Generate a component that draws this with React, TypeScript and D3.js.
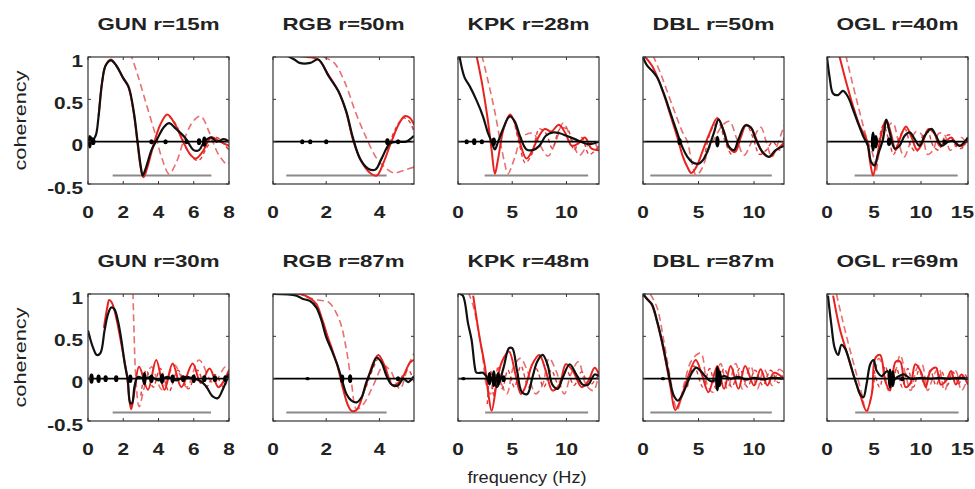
import React from "react";
import * as d3 from "d3";

type P = [number, number];

const titles = ["GUN r=15m", "RGB r=50m", "KPK r=28m", "DBL r=50m", "OGL r=40m",
  "GUN r=30m", "RGB r=87m", "KPK r=48m", "DBL r=87m", "OGL r=69m"];
const xMaxes = [8, 5.3, 13, 12.7, 15, 8, 5.3, 13, 12.7, 15];
const xTickSets = [[0, 2, 4, 6, 8], [0, 2, 4], [0, 5, 10], [0, 5, 10], [0, 5, 10, 15]];
const yTicks = [-0.5, 0, 0.5, 1];
const yTickLabels = ["-0.5", "0", "0.5", "1"];
const grayLevel = -0.4;
const grayRanges: P[] = [[1.4, 7.0], [0.5, 4.27], [2.46, 12.0], [0.66, 11.6], [2.94, 13.9],
  [1.4, 6.98], [0.5, 4.27], [2.5, 12.0], [0.66, 11.6], [3.0, 14.0]];

// ---- GUN r=15m
const gun15Black: P[] = [[0,0.02],[0.15,0.05],[0.3,0.03],[0.45,0.08],[0.6,0.3],[0.8,0.7],[1.0,0.9],[1.3,0.96],[1.6,0.9],[2.0,0.75],[2.3,0.65],[2.6,0.35],[2.8,0.02],[3.0,-0.3],[3.1,-0.4],[3.3,-0.3],[3.6,-0.1],[3.9,0.02],[4.3,0.17],[4.6,0.22],[5.0,0.15],[5.5,0.05],[6.0,-0.1],[6.3,-0.1],[6.6,0.0],[7.0,0.05],[7.3,0.0],[7.7,0.03],[8,0.0]];
const gun15Red: P[] = [[0.6,0.3],[0.8,0.7],[1.0,0.9],[1.3,0.97],[1.6,0.9],[2.0,0.75],[2.3,0.64],[2.6,0.33],[2.8,0.0],[3.0,-0.32],[3.15,-0.42],[3.4,-0.28],[3.7,-0.05],[4.1,0.2],[4.5,0.32],[4.9,0.22],[5.4,0.0],[5.8,-0.15],[6.1,-0.2],[6.5,-0.12],[7.0,0.05],[7.5,0.0],[8,-0.05]];
const gun15Dash: P[] = [[2.4,1.05],[2.8,0.8],[3.3,0.45],[3.8,0.1],[4.2,-0.2],[4.6,-0.38],[5.0,-0.25],[5.5,0.05],[6.0,0.25],[6.4,0.3],[6.9,0.1],[7.4,-0.15],[7.9,-0.27],[8,-0.25]];
const gun15Dash2: P[] = [[4.6,0.3],[5.0,0.2],[5.5,-0.05],[6.0,-0.2],[6.3,-0.22],[6.8,-0.05],[7.3,0.05],[7.8,-0.05],[8,-0.1]];
const gun15Blobs: P[] = [[0.1,0.08],[0.3,0.04],[3.6,0.03],[4.4,0.03],[5.6,0.03],[6.3,0.04],[6.6,0.06]];

// ---- RGB r=50m
const rgb50Black: P[] = [[0.5,1.02],[0.8,0.97],[1.0,0.93],[1.4,0.93],[1.7,0.97],[2.1,0.77],[2.45,0.6],[2.75,0.36],[3.0,0.05],[3.27,-0.2],[3.58,-0.32],[3.85,-0.33],[4.08,-0.2],[4.4,-0.02],[4.7,0.0],[5.0,0.0],[5.3,0.07]];
const rgb50Red: P[] = [[0.5,1.02],[1.3,1.0],[1.7,0.97],[2.1,0.78],[2.45,0.6],[2.75,0.35],[3.0,0.03],[3.3,-0.22],[3.65,-0.37],[3.9,-0.4],[4.15,-0.25],[4.45,0.0],[4.75,0.22],[4.95,0.3],[5.15,0.28],[5.3,0.2]];
const rgb50Dash: P[] = [[1.9,1.0],[2.3,0.93],[2.7,0.7],[3.1,0.35],[3.5,0.05],[3.9,-0.2],[4.2,-0.3],[4.55,-0.37],[4.9,-0.34],[5.3,-0.3]];
const rgb50Dash2: P[] = [[4.3,-0.1],[4.6,0.15],[4.9,0.28],[5.1,0.25],[5.3,0.12]];
const rgb50Blobs: P[] = [[1.1,0.03],[1.4,0.03],[2.0,0.03],[4.3,0.04],[4.7,0.03]];

// ---- KPK r=28m
const kpk28Black: P[] = [[0.15,1.0],[0.6,0.76],[1.1,0.65],[1.7,0.49],[2.3,0.3],[2.77,0.1],[3.1,0.0],[3.4,-0.09],[3.7,0.0],[4.15,0.15],[4.77,0.3],[5.23,0.24],[5.7,0.07],[6.3,-0.09],[6.9,-0.1],[7.5,-0.05],[8.1,0.07],[8.77,0.11],[9.38,0.1],[10,0.07],[10.77,0.03],[11.5,-0.01],[12.15,-0.03],[13,0.0]];
const kpk28Red: P[] = [[1.7,1.02],[2.2,0.7],[2.7,0.3],[3.1,-0.1],[3.4,-0.38],[3.7,-0.2],[4.2,0.15],[4.8,0.32],[5.3,0.2],[5.8,-0.05],[6.3,-0.2],[6.8,-0.12],[7.4,0.05],[8.0,0.15],[8.6,0.12],[9.3,0.2],[9.9,0.1],[10.5,-0.05],[11.1,-0.02],[11.7,0.05],[12.3,-0.08],[13,-0.1]];
const kpk28Dash: P[] = [[2.2,1.02],[2.8,0.7],[3.4,0.35],[3.9,0.0],[4.3,-0.25],[4.6,-0.38],[5.2,-0.2],[5.9,0.05],[6.9,0.1],[7.6,-0.05],[8.3,-0.17],[9.0,0.0],[9.7,0.22],[10.4,0.05],[11.2,-0.16],[11.9,-0.05],[12.5,0.0],[13,-0.12]];
const kpk28Dash2: P[] = [[4.3,0.2],[4.9,0.3],[5.6,0.0],[6.2,-0.25],[6.8,-0.15],[7.5,0.15],[8.1,0.1],[8.7,-0.08],[9.4,0.15],[10.1,0.15],[10.7,-0.1],[11.4,0.05],[12.1,-0.15],[13,-0.05]];
const kpk28Blobs: P[] = [[0.8,0.03],[1.5,0.04],[2.2,0.03],[3.3,0.05]];

// ---- DBL r=50m
const dbl50Black: P[] = [[0,1.0],[0.36,0.9],[0.8,0.84],[1.27,0.76],[1.87,0.57],[2.47,0.34],[3.07,0.11],[3.5,-0.05],[4.0,-0.18],[4.4,-0.24],[5.0,-0.26],[5.5,-0.2],[5.9,-0.08],[6.4,0.11],[6.8,0.26],[7.3,0.11],[7.7,-0.05],[8.2,-0.1],[8.6,0.03],[9.2,0.19],[9.7,0.17],[10.15,0.03],[10.75,-0.12],[11.35,-0.18],[11.95,-0.1],[12.7,-0.05]];
const dbl50Red: P[] = [[0.2,1.0],[0.8,0.9],[1.3,0.76],[1.9,0.55],[2.5,0.3],[3.1,0.05],[3.6,-0.18],[4.0,-0.3],[4.35,-0.37],[4.8,-0.3],[5.4,-0.1],[6.0,0.1],[6.7,0.28],[7.3,0.12],[7.8,-0.08],[8.3,-0.12],[8.8,0.05],[9.3,0.2],[9.8,0.15],[10.3,0.0],[10.9,-0.15],[11.4,-0.18],[12.0,-0.1],[12.7,-0.02]];
const dbl50Dash: P[] = [[0.9,1.02],[1.6,0.8],[2.3,0.55],[3.0,0.3],[3.6,0.1],[4.0,0.0],[4.4,-0.25],[4.8,-0.4],[5.3,-0.32],[5.9,-0.1],[6.5,0.05],[7.2,0.2],[7.8,0.24],[8.4,0.05],[9.1,-0.16],[9.8,0.0],[10.6,0.17],[11.1,0.0],[11.6,-0.18],[12.2,0.0],[12.7,0.19]];
const dbl50Dash2: P[] = [[5.5,-0.2],[6.2,0.15],[6.8,0.22],[7.4,0.0],[8.0,-0.15],[8.7,0.05],[9.3,0.2],[9.9,0.05],[10.5,-0.15],[11.1,-0.1],[11.7,0.0],[12.3,-0.1],[12.7,0.05]];
const dbl50Blobs: P[] = [[3.3,0.04],[6.7,0.07]];

// ---- OGL r=40m
const ogl40Black: P[] = [[0,1.0],[0.28,0.76],[0.64,0.57],[1.17,0.55],[1.7,0.6],[2.23,0.53],[2.77,0.38],[3.3,0.22],[3.83,0.07],[4.36,-0.05],[4.7,-0.24],[5.07,-0.28],[5.4,-0.16],[5.96,0.03],[6.3,0.26],[6.67,0.11],[7.2,-0.08],[7.7,-0.05],[8.26,0.07],[8.8,0.11],[9.33,0.03],[9.86,-0.05],[10.4,0.07],[11.1,0.15],[11.6,0.07],[12.2,-0.05],[12.9,0],[13.4,0.01],[14.1,-0.05],[15,0.05]];
const ogl40Red: P[] = [[1.3,1.02],[2.0,0.72],[2.77,0.42],[3.5,0.18],[4.2,0.03],[4.6,-0.25],[4.9,-0.4],[5.3,-0.2],[5.8,0.1],[6.3,0.26],[6.8,0.1],[7.3,-0.1],[7.8,0.05],[8.4,0.18],[9.0,0.05],[9.6,-0.1],[10.2,0.0],[10.8,0.15],[11.4,0.1],[12.0,-0.05],[12.6,0.0],[13.2,0.05],[13.8,-0.03],[14.4,-0.05],[15,0.03]];
const ogl40Dash: P[] = [[2.0,1.02],[2.8,0.65],[3.5,0.34],[4.2,0.05],[4.9,-0.16],[5.2,-0.35],[5.6,-0.1],[6.3,0.15],[7.0,0.22],[7.6,0.0],[8.2,-0.18],[8.9,0.0],[9.5,0.12],[10.1,0.08],[10.7,-0.15],[11.3,-0.1],[11.9,0.1],[12.5,0.08],[13.1,-0.1],[13.7,-0.05],[14.3,0.05],[15,-0.05]];
const ogl40Dash2: P[] = [[5.5,0.0],[6.0,0.2],[6.5,0.05],[7.1,-0.15],[7.7,0.05],[8.3,0.15],[8.9,-0.05],[9.5,-0.12],[10.1,0.05],[10.7,0.12],[11.3,-0.05],[11.9,-0.1],[12.5,0.05],[13.1,0.08],[13.7,-0.05],[14.3,-0.08],[15,0.05]];
const ogl40Blobs: P[] = [[4.9,0.12],[5.2,0.08],[6.6,0.05],[12.5,0.03]];

// ---- GUN r=30m
const gun30Black: P[] = [[0,0.57],[0.28,0.37],[0.5,0.28],[0.7,0.3],[0.94,0.57],[1.13,0.76],[1.32,0.84],[1.5,0.82],[1.7,0.68],[1.9,0.45],[2.08,0.18],[2.26,-0.02],[2.4,-0.29],[2.5,-0.29],[2.64,-0.09],[2.83,0.02],[3.2,0.0],[3.6,0.02],[4.0,-0.02],[4.5,0.02],[5.0,-0.02],[5.5,0.02],[6.0,0.0],[6.4,-0.03],[6.7,-0.09],[7.07,-0.21],[7.36,-0.23],[7.64,-0.13],[8,0.06]];
const gun30Red: P[] = [[0.9,0.6],[1.1,0.85],[1.2,0.93],[1.35,0.9],[1.6,0.72],[1.9,0.4],[2.2,0.05],[2.35,-0.25],[2.45,-0.36],[2.6,-0.2],[2.9,0.14],[3.4,-0.13],[3.87,0.22],[4.34,-0.13],[4.8,0.18],[5.3,-0.1],[5.94,0.18],[6.4,-0.05],[6.9,0.12],[7.4,-0.1],[8,0.1]];
const gun30Dash: P[] = [[2.55,1.02],[2.62,0.5],[2.7,0.06],[2.9,-0.33],[3.2,-0.1],[3.6,0.14],[4.2,-0.13],[4.9,0.16],[5.6,-0.1],[6.3,0.22],[7.1,-0.05],[7.8,0.14],[8,0.1]];
const gun30Dash2: P[] = [[3.0,-0.2],[3.3,0.1],[3.7,-0.1],[4.1,0.12],[4.6,-0.15],[5.1,0.1],[5.7,-0.12],[6.2,0.1],[6.7,-0.1],[7.2,0.05],[7.7,-0.1],[8,0.05]];
const gun30Blobs: P[] = [[0.2,0.06],[0.6,0.05],[1.0,0.04],[1.6,0.04],[2.4,0.05],[3.2,0.08],[3.6,0.05],[4.2,0.06],[4.8,0.05],[5.4,0.04],[6.0,0.05],[6.6,0.04],[7.2,0.04],[7.8,0.04]];

// ---- RGB r=87m
const rgb87Black: P[] = [[0,1.0],[0.88,0.98],[1.13,0.94],[1.38,0.92],[1.63,0.84],[1.82,0.69],[2.0,0.49],[2.2,0.34],[2.4,0.18],[2.58,0.0],[2.76,-0.18],[2.95,-0.26],[3.14,-0.28],[3.33,-0.22],[3.5,-0.05],[3.7,0.11],[3.9,0.25],[4.08,0.19],[4.27,0.03],[4.46,-0.07],[4.7,-0.08],[4.9,0.0],[5.08,-0.04],[5.3,0.03]];
const rgb87Red: P[] = [[0,1.0],[1.0,1.0],[1.4,0.95],[1.63,0.88],[1.85,0.7],[2.05,0.5],[2.25,0.32],[2.45,0.12],[2.6,-0.08],[2.8,-0.3],[2.95,-0.38],[3.14,-0.37],[3.45,-0.12],[3.77,0.19],[3.96,0.28],[4.2,0.15],[4.5,-0.08],[4.8,-0.02],[5.15,0.19],[5.3,0.22]];
const rgb87Dash: P[] = [[1.25,0.96],[1.7,0.93],[2.1,0.9],[2.5,0.69],[2.76,0.34],[2.95,-0.05],[3.14,-0.36],[3.4,-0.3],[3.77,-0.08],[4.15,0.15],[4.4,0.1],[4.77,-0.12],[5.08,0.15],[5.3,0.3]];
const rgb87Dash2: P[] = [[3.5,-0.1],[3.8,0.15],[4.0,0.25],[4.3,0.05],[4.6,-0.1],[4.9,0.05],[5.1,0.1],[5.3,-0.05]];
const rgb87Blobs: P[] = [[1.3,0.02],[2.6,0.05],[2.9,0.05],[4.7,0.03]];

// ---- KPK r=48m
const kpk48Black: P[] = [[0.15,1.0],[0.45,0.98],[0.93,0.65],[1.25,0.46],[1.56,0.13],[1.7,0.07],[2.3,0.07],[2.6,0.03],[2.9,-0.05],[3.2,0.02],[3.6,-0.1],[4.2,0.13],[4.7,0.36],[5.0,0.36],[5.45,0.09],[5.9,-0.16],[6.4,-0.18],[6.85,0.01],[7.3,0.2],[7.8,0.28],[8.25,0.17],[8.7,-0.07],[9.2,-0.12],[9.65,0.01],[10.3,0.17],[10.9,0.05],[11.5,-0.07],[12,-0.07],[12.6,0.05],[13,0.03]];
const kpk48Red: P[] = [[1.4,0.98],[2.0,0.48],[2.5,0.13],[2.8,-0.18],[3.1,-0.38],[3.6,-0.03],[4.05,0.2],[4.7,0.32],[5.3,0.05],[5.8,-0.18],[6.2,-0.1],[6.85,0.17],[7.5,0.28],[8.1,0.09],[8.7,-0.14],[9.35,-0.07],[9.95,0.17],[10.6,0.09],[11.4,-0.1],[12,-0.03],[12.6,0.13],[13,0.05]];
const kpk48Dash: P[] = [[0.95,1.02],[1.4,0.86],[1.9,0.55],[2.3,0.24],[2.6,-0.07],[3.0,-0.18],[3.4,0.09],[3.9,-0.03],[4.5,-0.18],[5.1,0.13],[5.75,0.24],[6.4,0.09],[7.15,-0.18],[7.8,-0.07],[8.4,0.24],[9.05,0.09],[9.8,-0.18],[10.4,0.05],[11.1,0.2],[11.8,-0.07],[12.5,-0.14],[13,0.09]];
const kpk48Dash2: P[] = [[2.7,-0.3],[3.0,0.1],[3.3,-0.2],[3.7,0.15],[4.1,-0.12],[4.6,0.1],[5.2,-0.1],[5.8,0.15],[6.5,-0.1],[7.2,0.12],[7.9,-0.1],[8.6,0.1],[9.3,-0.08],[10.0,0.1],[10.7,-0.08],[11.4,0.08],[12.1,-0.08],[13,0.05]];
const kpk48Blobs: P[] = [[0.5,0.02],[2.9,0.08],[3.3,0.1],[3.7,0.08],[4.2,0.04]];

// ---- DBL r=87m
const dbl87Black: P[] = [[0,1.0],[0.36,0.94],[0.8,0.88],[1.27,0.68],[1.7,0.45],[2.17,0.15],[2.47,-0.05],[2.77,-0.2],[3.13,-0.26],[3.5,-0.2],[4.0,-0.05],[4.4,0.07],[4.8,0.13],[5.2,0.09],[5.6,0.03],[6.1,-0.03],[6.7,-0.01],[7.3,0.03],[7.9,0.0],[8.6,0.02],[9.3,-0.01],[10,0.01],[10.8,-0.01],[11.6,0.01],[12.7,0.0]];
const dbl87Red: P[] = [[0,1.0],[0.4,0.94],[0.8,0.87],[1.27,0.67],[1.7,0.43],[2.17,0.12],[2.5,-0.12],[2.9,-0.37],[3.3,-0.28],[4.0,0.0],[4.75,0.22],[5.3,0.05],[5.9,-0.16],[6.7,0.15],[7.3,-0.12],[7.9,0.15],[8.6,-0.12],[9.2,0.15],[10,-0.08],[10.6,0.11],[11.2,-0.08],[11.8,0.07],[12.7,0.0]];
const dbl87Dash: P[] = [[0.66,1.0],[1.27,0.84],[1.87,0.45],[2.47,0.0],[3.07,-0.37],[3.67,-0.08],[4.4,0.22],[5.2,0.3],[5.8,-0.08],[6.3,-0.16],[7.0,0.18],[7.6,-0.12],[8.35,0.18],[8.95,-0.12],[9.7,0.15],[10.3,-0.12],[10.9,0.11],[11.65,-0.08],[12.26,0.11],[12.7,0.07]];
const dbl87Dash2: P[] = [[4.0,-0.1],[4.6,0.15],[5.4,-0.1],[6.0,0.12],[6.6,-0.12],[7.3,0.12],[8.0,-0.1],[8.7,0.12],[9.4,-0.1],[10.1,0.1],[10.8,-0.08],[11.5,0.1],[12.2,-0.05],[12.7,0.08]];
const dbl87Blobs: P[] = [[1.8,0.02],[6.7,0.15],[6.9,0.1]];

// ---- OGL r=69m
const ogl69Black: P[] = [[0.1,0.98],[0.47,0.63],[0.82,0.36],[1.18,0.28],[1.54,0.4],[1.9,0.36],[2.44,0.19],[2.8,0.05],[3.15,-0.07],[3.5,-0.18],[3.87,-0.22],[4.2,-0.07],[4.6,0.17],[4.95,0.22],[5.3,0.09],[5.84,0.03],[6.4,0.09],[6.9,-0.03],[7.5,0.02],[8.2,0.05],[8.9,0.0],[10,0.01],[11,0.0],[12,0.01],[13,0.0],[14,0.01],[15,0.0]];
const ogl69Red: P[] = [[0.65,0.98],[1.36,0.59],[2.08,0.32],[2.8,0.05],[3.5,-0.18],[4.2,-0.38],[4.77,-0.18],[5.13,0.24],[5.66,0.28],[6.2,-0.03],[6.7,-0.14],[7.3,0.2],[7.8,0.2],[8.35,-0.1],[8.9,-0.05],[9.4,0.17],[10.0,0.08],[10.5,-0.1],[11.0,0.09],[11.6,0.13],[12.1,-0.07],[12.7,-0.02],[13.2,0.09],[13.7,-0.07],[14.3,0.05],[15,-0.07]];
const ogl69Dash: P[] = [[1.0,1.0],[1.7,0.67],[2.4,0.36],[3.15,0.05],[3.7,-0.18],[4.2,-0.4],[4.95,-0.07],[5.5,0.24],[6.0,0.13],[6.55,-0.14],[7.3,0.09],[7.8,0.28],[8.35,0.05],[8.9,-0.14],[9.6,0.13],[10.1,0.17],[10.7,-0.14],[11.4,0.05],[11.9,0.13],[12.5,-0.14],[13.2,0.05],[13.7,0.09],[14.3,-0.14],[15,0.01]];
const ogl69Dash2: P[] = [[5.0,0.1],[5.6,-0.1],[6.2,0.15],[6.8,-0.1],[7.4,0.12],[8.0,-0.1],[8.6,0.12],[9.2,-0.1],[9.8,0.1],[10.4,-0.08],[11.0,0.1],[11.6,-0.08],[12.2,0.08],[12.8,-0.08],[13.4,0.08],[14.0,-0.06],[14.6,0.06],[15,-0.02]];
const ogl69Blobs: P[] = [[6.7,0.12],[7.0,0.1],[8.0,0.03]];

const blackSeries = [gun15Black, rgb50Black, kpk28Black, dbl50Black, ogl40Black, gun30Black, rgb87Black, kpk48Black, dbl87Black, ogl69Black];
const redSeries = [gun15Red, rgb50Red, kpk28Red, dbl50Red, ogl40Red, gun30Red, rgb87Red, kpk48Red, dbl87Red, ogl69Red];
const dashSeries = [gun15Dash, rgb50Dash, kpk28Dash, dbl50Dash, ogl40Dash, gun30Dash, rgb87Dash, kpk48Dash, dbl87Dash, ogl69Dash];
const dash2Series = [gun15Dash2, rgb50Dash2, kpk28Dash2, dbl50Dash2, ogl40Dash2, gun30Dash2, rgb87Dash2, kpk48Dash2, dbl87Dash2, ogl69Dash2];
const blobSeries = [gun15Blobs, rgb50Blobs, kpk28Blobs, dbl50Blobs, ogl40Blobs, gun30Blobs, rgb87Blobs, kpk48Blobs, dbl87Blobs, ogl69Blobs];

const W = 975, H = 489;
const colLeft = [88, 273, 458, 643, 827];
const rowTop = [57, 294];
const pw = 141, ph = 127;
const FONT = "'Liberation Sans', Arial, Helvetica, sans-serif";

function Panel({ i }: { i: number }) {
  const col = i % 5, row = Math.floor(i / 5);
  const x0 = colLeft[col], y0 = rowTop[row];
  const x = d3.scaleLinear().domain([0, xMaxes[i]]).range([x0, x0 + pw]);
  const y = d3.scaleLinear().domain([-0.5, 1]).range([y0 + ph, y0]);
  const line = d3.line<P>().x(d => x(d[0])).y(d => y(d[1])).curve(d3.curveCatmullRom.alpha(0.5));
  const clipId = `clip${i}`;
  const xt = xTickSets[col];
  const g = grayRanges[i];
  return (
    <g>
      <defs>
        <clipPath id={clipId}><rect x={x0} y={y0} width={pw} height={ph} /></clipPath>
      </defs>
      <g clipPath={`url(#${clipId})`}>
        <line x1={x(g[0])} x2={x(g[1])} y1={y(grayLevel)} y2={y(grayLevel)} stroke="#8a8a8a" strokeWidth={2} />
        <path d={line(dashSeries[i]) || ""} fill="none" stroke="#e87070" strokeWidth={1.6} strokeDasharray="7,4" />
        <path d={line(dash2Series[i]) || ""} fill="none" stroke="#e03a3a" strokeWidth={1.4} strokeDasharray="4,3" />
        <path d={line(redSeries[i]) || ""} fill="none" stroke="#e8231f" strokeWidth={2} />
        <path d={line(blackSeries[i]) || ""} fill="none" stroke="#111" strokeWidth={2.2} />
        <line x1={x0} x2={x0 + pw} y1={y(0)} y2={y(0)} stroke="#000" strokeWidth={1.6} />
        {blobSeries[i].map((b, k) => (
          <ellipse key={k} cx={x(b[0])} cy={y(0)} rx={2.2} ry={Math.abs(y(b[1]) - y(0))} fill="#000" />
        ))}
      </g>
      <rect x={x0} y={y0} width={pw} height={ph} fill="none" stroke="#333" strokeWidth={1.2} />
      {xt.map(t => {
        const lbl = String(t);
        const halfW = lbl.length * 5.8;
        const cx = Math.min(x(t), W - 1 - halfW);
        return (
          <g key={"xt" + t}>
            <line x1={x(t)} x2={x(t)} y1={y0 + ph} y2={y0 + ph - 3} stroke="#333" />
            <line x1={x(t)} x2={x(t)} y1={y0} y2={y0 + 3} stroke="#333" />
            <text transform={`translate(${cx},${y0 + ph + 34}) scale(1.3,1)`} textAnchor="middle"
              fontFamily={FONT} fontWeight="bold" fontSize={16} fill="#222">{lbl}</text>
          </g>
        );
      })}
      {yTicks.map((t, k) => (
        <g key={"yt" + t}>
          <line x1={x0} x2={x0 + 3} y1={y(t)} y2={y(t)} stroke="#333" />
          <line x1={x0 + pw} x2={x0 + pw - 3} y1={y(t)} y2={y(t)} stroke="#333" />
          {col === 0 && (
            <text transform={`translate(${x0 - 5},${y(t) + 9.5}) scale(1.3,1)`} textAnchor="end"
              fontFamily={FONT} fontWeight="bold" fontSize={16} fill="#222">{yTickLabels[k]}</text>
          )}
        </g>
      ))}
      <text x={x0 + pw / 2} y={y0 - 27} textAnchor="middle" fontFamily={FONT} fontWeight="bold"
        fontSize={17} fill="#222" textLength={122} lengthAdjust="spacingAndGlyphs">{titles[i]}</text>
      {col === 0 && (
        <text transform={`translate(${26},${y0 + ph / 2}) rotate(-90)`} textAnchor="middle"
          fontFamily={FONT} fontSize={16} fill="#222" textLength={100} lengthAdjust="spacingAndGlyphs">coherency</text>
      )}
    </g>
  );
}

export default function App() {
  return (
    <svg width={W} height={H} style={{ position: "absolute", left: 0, top: 0, background: "#fff" }}>
      <rect width={W} height={H} fill="#fff" />
      {titles.map((_, i) => <Panel key={i} i={i} />)}
      <text x={527} y={483} textAnchor="middle" fontFamily={FONT} fontSize={16} fill="#222"
        textLength={119} lengthAdjust="spacingAndGlyphs">frequency (Hz)</text>
    </svg>
  );
}
